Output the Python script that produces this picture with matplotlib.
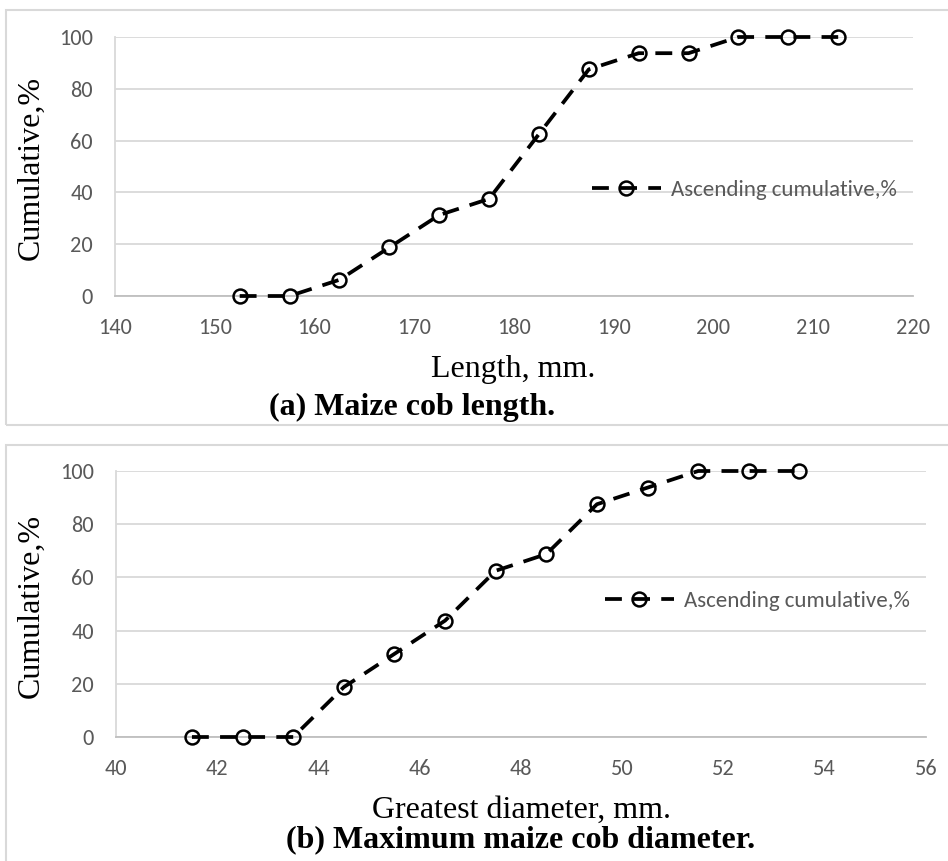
import matplotlib
matplotlib.use("Agg")
import matplotlib.pyplot as plt
from matplotlib.patches import Rectangle

# ---- data ----
length_mm = [152.5, 157.5, 162.5, 167.5, 172.5, 177.5, 182.5, 187.5, 192.5, 197.5, 202.5, 207.5, 212.5]
length_cum = [0, 0, 6.25, 18.75, 31.25, 37.5, 62.5, 87.5, 93.75, 93.75, 100, 100, 100]
diam_mm = [41.5, 42.5, 43.5, 44.5, 45.5, 46.5, 47.5, 48.5, 49.5, 50.5, 51.5, 52.5, 53.5]
diam_cum = [0, 0, 0, 18.75, 31.25, 43.75, 62.5, 68.75, 87.5, 93.75, 100, 100, 100]
series_label = "Ascending cumulative,%"
ylabel = "Cumulative,%"
xlabel_a = "Length, mm."
xlabel_b = "Greatest diameter, mm."
title_a = "(a) Maize cob length."
title_b = "(b) Maximum maize cob diameter."

W, H = 948, 861
fig = plt.figure(figsize=(W / 100, H / 100), dpi=100)

def fx(px):
    return px / W

def fy(py):
    return 1 - py / H

GRID = "#d9d9d9"
TICK = "#595959"
SANS = ["Carlito", "Lato", "DejaVu Sans"]
SERIF = ["Liberation Serif", "DejaVu Serif"]

# outer panel boxes
for (x0, y0, x1, y1) in [(6, 10, 960, 425), (6, 445, 960, 880)]:
    fig.patches.append(Rectangle((fx(x0), fy(y1)), fx(x1) - fx(x0), fy(y0) - fy(y1),
                                 transform=fig.transFigure, fill=False,
                                 edgecolor=GRID, linewidth=1.5))

def panel(box, xs, ys, xlim, xstep, leg_xy, ylab_xy, xlab_xy, xlab, tit_xy, tit):
    l, t, r, b = box
    ax = fig.add_axes([fx(l), fy(b), fx(r) - fx(l), fy(t) - fy(b)])
    ax.plot(xs, ys, color="black", linewidth=2.7, linestyle=(0, (4.5, 3)),
            marker="o", markersize=10, markerfacecolor="none",
            markeredgecolor="black", markeredgewidth=1.8, label=series_label,
            clip_on=False, zorder=3)
    ax.set_xlim(*xlim)
    ax.set_ylim(0, 100)
    ax.set_xticks(range(xlim[0], xlim[1] + 1, xstep))
    ax.set_yticks(range(0, 101, 20))
    ax.grid(axis="y", color=GRID, linewidth=1.3)
    ax.set_axisbelow(True)
    for s in ["top", "right"]:
        ax.spines[s].set_visible(False)
    ax.spines["left"].set_color(GRID)
    ax.spines["bottom"].set_color("#bfbfbf")
    ax.spines["left"].set_linewidth(1.3)
    ax.spines["bottom"].set_linewidth(1.3)
    ax.tick_params(length=0, labelcolor=TICK, labelsize=16)
    ax.tick_params(axis="x", pad=16)
    ax.tick_params(axis="y", pad=16)
    for lab in ax.get_xticklabels() + ax.get_yticklabels():
        lab.set_family(SANS)
    leg = ax.legend(loc="center left", bbox_to_anchor=(fx(leg_xy[0]), fy(leg_xy[1])),
                    bbox_transform=fig.transFigure, frameon=False, numpoints=1,
                    handlelength=3.0, handletextpad=0.45, borderpad=0, borderaxespad=0,
                    prop={"family": SANS, "size": 16.5})
    for txt in leg.get_texts():
        txt.set_color(TICK)
    fig.text(fx(ylab_xy[0]), fy(ylab_xy[1]), ylabel, rotation=90, ha="center", va="center",
             family=SERIF, fontsize=23)
    fig.text(fx(xlab_xy[0]), fy(xlab_xy[1]), xlab, ha="center", va="center",
             family=SERIF, fontsize=23)
    fig.text(fx(tit_xy[0]), fy(tit_xy[1]), tit, ha="center", va="center",
             family=SERIF, fontsize=23, fontweight="bold")
    return ax

panel((115, 37, 913, 296), length_mm, length_cum, (140, 220), 10,
      (592, 190), (31, 168), (513, 370), xlabel_a, (412, 407), title_a)
panel((116, 471, 926, 737), diam_mm, diam_cum, (40, 56), 2,
      (605, 601), (31, 606), (521, 810), xlabel_b, (521, 840), title_b)

fig.savefig("out.png", dpi=100, facecolor="white")
